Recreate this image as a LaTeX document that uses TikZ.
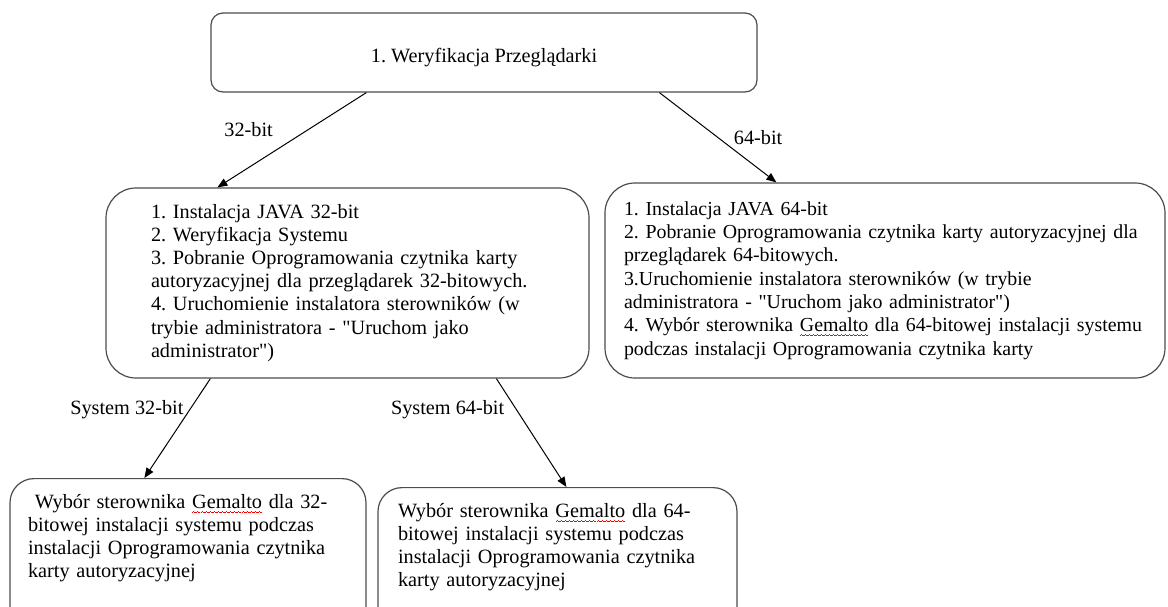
\documentclass[tikz,border=0pt]{standalone}
\usepackage{fontspec}
\setmainfont{Liberation Serif}[Ligatures=TeXOff]
\usetikzlibrary{arrows.meta}
\frenchspacing

% red wavy spell-check underline
\newcommand{\spell}[1]{\setbox0=\hbox{#1}\rlap{\color{red}\hbox to \wd0{\xleaders\hbox{\rule[-2.7pt]{0.75pt}{0.45pt}\rule[-2.3pt]{0.75pt}{0.45pt}\rule[-2.7pt]{0.75pt}{0.45pt}\rule[-3.1pt]{0.75pt}{0.45pt}}\hfill}}#1}

\tikzset{
	box/.style={rectangle, draw=black!70, line width=0.9pt, align=left, font=\fontsize{15.2pt}{17.3pt}\selectfont},
	lbl/.style={inner sep=0pt, font=\fontsize{15.2pt}{17.3pt}\selectfont},
	arr/.style={-{Triangle[length=7.5pt,width=6pt]}, line width=0.75pt}
}

\begin{document}
\begin{tikzpicture}[x=0.75pt,y=-0.75pt]

	\clip (0,0) rectangle (1168,607);

	\node 	(verif)		at	(484,52.5) 	[box, rounded corners=9pt, minimum width=409.5pt, minimum height=59.25pt, align=center, text height=18pt, text depth=3.3pt]{1. Weryfikacja Przeglądarki};

	\node 	(java32)	at	(347.5,283) 	[box, rounded corners=22.5pt, minimum width=362.25pt, minimum height=142.5pt, inner xsep=33.75pt, text width=294.75pt]{1. Instalacja JAVA 32-bit\\
2. Weryfikacja Systemu\\
3. Pobranie Oprogramowania czytnika karty\\
autoryzacyjnej dla przeglądarek 32-bitowych.\\
4. Uruchomienie instalatora sterowników (w\\
trybie administratora -  "Uruchom jako\\
administrator")};

	\node 	(java64)	at	(885,280.5) 	[box, rounded corners=22.5pt, minimum width=420pt, minimum height=146.25pt, inner xsep=14.25pt, text width=391.5pt, font=\fontsize{14.9pt}{17.5pt}\selectfont]{1. Instalacja JAVA 64-bit\\
2. Pobranie Oprogramowania czytnika karty autoryzacyjnej dla\\
przeglądarek 64-bitowych.\\
3.Uruchomienie instalatora sterowników (w trybie\\
administratora - "Uruchom jako administrator")\\
4. Wybór sterownika \spell{Gemalto} dla 64-bitowej instalacji systemu\\
podczas instalacji Oprogramowania czytnika karty};

	\node 	(gem32)		at	(188,478) 	[box, anchor=north, rounded corners=18pt, minimum width=267pt, inner xsep=13.5pt, inner ysep=12pt, text width=240pt, text depth=150pt]{\ Wybór sterownika \spell{Gemalto} dla 32-\\
bitowej instalacji systemu podczas\\
instalacji Oprogramowania czytnika\\
karty autoryzacyjnej};

	\node 	(gem64)		at	(557.5,487) 	[box, anchor=north, rounded corners=18pt, minimum width=269.25pt, inner xsep=15pt, inner ysep=12pt, text width=239.25pt, text depth=150pt]{Wybór sterownika \spell{Gemalto} dla 64-\\
bitowej instalacji systemu podczas\\
instalacji Oprogramowania czytnika\\
karty autoryzacyjnej};

	\draw[arr]	([xshift=117pt]verif.south west)	to	node[lbl, pos=0.39, left=26.25pt]{32-bit}	([xshift=84pt]java32.north west);
	\draw[arr]	([xshift=336.75pt]verif.south west)	to	node[lbl, pos=0.5, right=11.6pt]{64-bit}	([xshift=129pt]java64.north west);
	\draw[arr]	([xshift=78.75pt]java32.south west)	to	node[lbl, pos=0.31, left=4.5pt]{System 32-bit}	([xshift=101.25pt]gem32.north west);
	\draw[arr]	([xshift=293.25pt]java32.south west)	to	node[lbl, pos=0.29, left=9pt]{System 64-bit}	([xshift=141.75pt]gem64.north west);

\end{tikzpicture}
\end{document}
